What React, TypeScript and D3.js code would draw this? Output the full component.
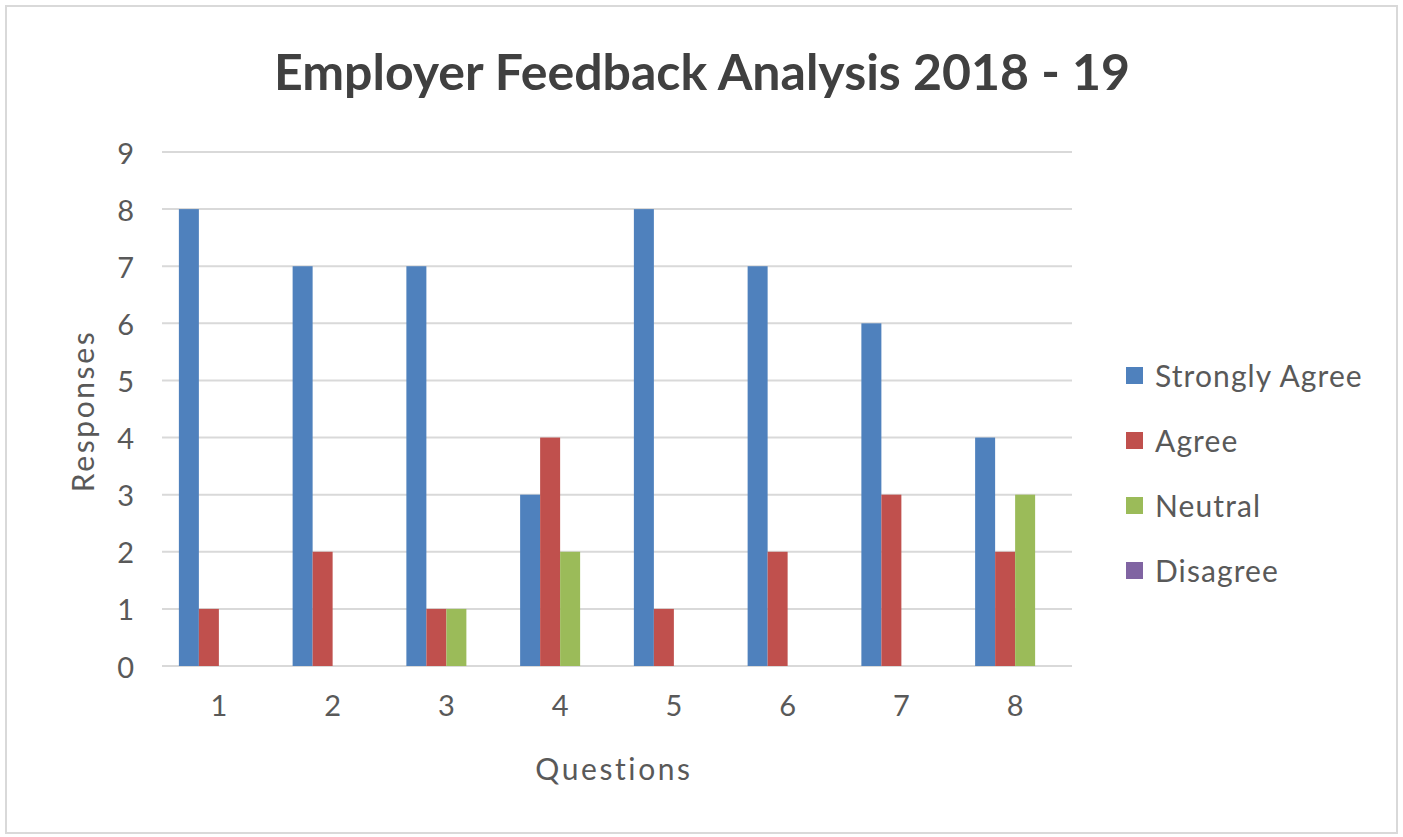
import React from "react";
import * as d3 from "d3";

const questions = ["1", "2", "3", "4", "5", "6", "7", "8"];
const seriesNames = ["Strongly Agree", "Agree", "Neutral", "Disagree"];
const stronglyAgree = [8, 7, 7, 3, 8, 7, 6, 4];
const agree = [1, 2, 1, 4, 1, 2, 3, 2];
const neutral = [0, 0, 1, 2, 0, 0, 0, 3];
const disagree = [0, 0, 0, 0, 0, 0, 0, 0];
const yTicks = [0, 1, 2, 3, 4, 5, 6, 7, 8, 9];
const colors = ["#4f81bd", "#c0504d", "#9bbb59", "#8064a2"];

const W = 1403;
const H = 837;
const FONT = "Lato, 'Open Sans', sans-serif";

export default function App() {
  const values = [stronglyAgree, agree, neutral, disagree];
  const left = 162, right = 1072, top = 152, bottom = 666;
  const x0 = d3.scaleBand<string>().domain(questions).range([left, right]).paddingInner(0.2967).paddingOuter(0.14835);
  const x1 = d3.scaleBand<string>().domain(seriesNames).range([0, x0.bandwidth()]);
  const y = d3.scaleLinear().domain([0, 9]).range([bottom, top]);

  return (
    <svg width={W} height={H} style={{ position: "absolute", left: 0, top: 0, background: "#fff" }}>
      <rect x={6} y={6} width={W - 12} height={H - 10} fill="#fff" stroke="#d9d9d9" strokeWidth={2} />
      <text x={702} y={90} textAnchor="middle" fontFamily={FONT} fontWeight={700} fontSize={50} fill="#404040">
        Employer Feedback Analysis 2018 - 19
      </text>
      {yTicks.map((t) => (
        <g key={t}>
          <line x1={left} x2={right} y1={y(t)} y2={y(t)} stroke="#d9d9d9" strokeWidth={2} />
          <text x={134} y={y(t)} textAnchor="end" dominantBaseline="central" fontFamily={FONT} fontSize={29} fill="#595959">
            {t}
          </text>
        </g>
      ))}
      {questions.map((q, i) => (
        <g key={q}>
          {seriesNames.map((s, j) => {
            const v = values[j][i];
            return (
              <rect
                key={s}
                x={(x0(q) as number) + (x1(s) as number)}
                y={y(v)}
                width={x1.bandwidth()}
                height={bottom - y(v)}
                fill={colors[j]}
              />
            );
          })}
          <text
            x={(x0(q) as number) + x0.bandwidth() / 2}
            y={704}
            textAnchor="middle"
            dominantBaseline="central"
            fontFamily={FONT}
            fontSize={29}
            fill="#595959"
          >
            {q}
          </text>
        </g>
      ))}
      <text x={614} y={768} textAnchor="middle" dominantBaseline="central" fontFamily={FONT} fontSize={30} letterSpacing={2.6} fill="#595959">
        Questions
      </text>
      <text
        transform={`translate(82,411) rotate(-90)`}
        textAnchor="middle"
        dominantBaseline="central"
        fontFamily={FONT}
        fontSize={30}
        letterSpacing={2.6}
        fill="#595959"
      >
        Responses
      </text>
      {seriesNames.map((s, j) => {
        const cy = 375 + j * 65;
        return (
          <g key={s}>
            <rect x={1126} y={cy - 8} width={17} height={17} fill={colors[j]} />
            <text x={1155} y={cy} dominantBaseline="central" fontFamily={FONT} fontSize={30} letterSpacing={1.1} fill="#595959">
              {s}
            </text>
          </g>
        );
      })}
    </svg>
  );
}
